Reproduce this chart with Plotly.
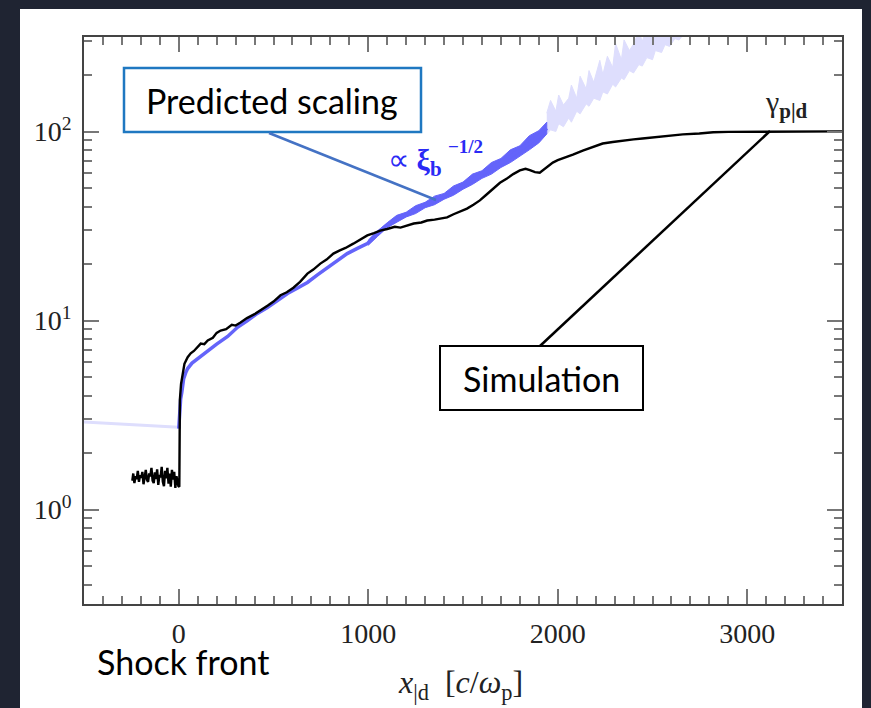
import plotly.graph_objects as go

# ---- data -------------------------------------------------------------
# simulation, upstream (pre-shock) noise
sim_pre_x = [-245, -240, -234, -228, -222, -216, -210, -204, -198, -192, -186, -180,
             -174, -168, -162, -156, -150, -144, -138, -132, -126, -120, -114, -108,
             -102, -96, -90, -84, -78, -72, -66, -60, -54, -48, -42, -36, -30, -24,
             -18, -12, -6, -2]
sim_pre_y = [1.42, 1.55, 1.38, 1.50, 1.45, 1.60, 1.40, 1.52, 1.47, 1.58, 1.36, 1.49,
             1.62, 1.44, 1.40, 1.55, 1.50, 1.66, 1.42, 1.38, 1.57, 1.45, 1.63, 1.35,
             1.52, 1.48, 1.68, 1.40, 1.33, 1.60, 1.46, 1.66, 1.37, 1.55, 1.32, 1.62,
             1.44, 1.58, 1.30, 1.50, 1.35, 1.33]

# simulation, downstream
sim_x = [3, 6, 12, 21, 30, 47, 63, 80, 100, 116, 135, 153, 180, 200, 221, 250, 280, 300,
         326, 360, 400, 432, 470, 500, 537, 570, 605, 640, 679, 710, 747, 780, 816, 850,
         880, 921, 960, 995, 1030, 1063, 1100, 1140, 1170, 1205, 1240, 1280, 1311, 1350,
         1380, 1416, 1450, 1490, 1521, 1555, 1589, 1620, 1658, 1695, 1732, 1765, 1800,
         1830, 1853, 1880, 1905, 1940, 1974, 2000, 2026, 2080, 2132, 2180, 2237, 2290,
         2342, 2400, 2447, 2520, 2589, 2660, 2747, 2820, 2900, 3000, 3100, 3200, 3300,
         3400, 3500]
sim_y = [1.32, 3.8, 4.6, 5.2, 5.9, 6.4, 6.7, 6.9, 7.3, 7.55, 7.5, 7.84, 8.1, 8.6, 8.85,
         9.0, 9.5, 9.4, 9.76, 10.3, 10.8, 11.3, 12.0, 12.6, 13.6, 14.1, 14.9, 16.0, 17.7,
         18.6, 20.0, 21.0, 22.6, 23.5, 24.2, 25.5, 26.8, 28.2, 29.0, 29.9, 30.5, 31.3,
         31.0, 31.8, 32.6, 33.0, 33.8, 34.2, 34.6, 35.1, 36.5, 38.0, 39.1, 41.0, 43.2,
         46.0, 49.9, 53.5, 56.4, 59.5, 62.2, 63.5, 62.5, 61.0, 60.5, 64.5, 68.5, 70.5,
         72.0, 75.5, 79.3, 82.5, 86.4, 88.0, 89.6, 90.8, 91.8, 93.5, 95.3, 96.5, 97.6,
         99.0, 99.5, 99.6, 99.8, 99.7, 99.9, 100.0, 100.2]

# predicted scaling  ~ xi_b^(-1/2)
pred_x = [0, 5, 10, 16, 26, 37, 47, 70, 100, 153, 200, 258, 310, 363, 415, 468, 520,
          574, 625, 679, 730, 784, 835, 889, 940, 995, 1030, 1063, 1110, 1168, 1220,
          1274, 1325, 1379, 1430, 1484, 1535, 1589, 1640, 1695, 1745, 1800, 1850, 1905,
          1942]
pred_y = [2.68, 3.34, 3.85, 4.16, 4.93, 5.3, 5.57, 5.95, 6.29, 6.94, 7.5, 8.23, 9.2,
          10.0, 10.9, 11.7, 12.8, 13.9, 14.8, 15.9, 17.4, 19.1, 20.7, 22.6, 24.0, 25.5,
          27.8, 29.9, 32.5, 35.1, 37.2, 39.6, 41.8, 44.2, 47.2, 50.6, 54.5, 58.5, 63.0,
          67.7, 73.0, 79.3, 86.5, 95.3, 104]

# scatter envelope of the predicted curve (noisy part)
pred_band_x = [1000, 1050, 1100, 1150, 1200, 1250, 1300, 1350, 1400, 1450, 1500, 1550,
               1600, 1650, 1700, 1750, 1800, 1850, 1900, 1942]
pred_band_hi = [26.6, 29.8, 32.9, 36.0, 37.4, 40.5, 42.2, 45.5, 47.0, 51.5, 54.0, 59.5,
                62.0, 68.5, 72.0, 80.0, 84.0, 95.0, 101.0, 112]
pred_band_lo = [25.0, 27.9, 31.0, 33.0, 35.3, 36.8, 39.5, 41.0, 43.8, 46.0, 49.5, 52.5,
                56.5, 59.5, 64.5, 68.5, 74.0, 80.0, 87.0, 97.0]

# predicted scaling outside its validity range (faded)
faint_up_x = [-500, -250, 0]
faint_up_y = [2.90, 2.81, 2.72]
faint_band_x = [1942, 1962, 1990, 2005, 2030, 2058, 2072, 2100, 2118, 2150, 2165, 2190,
                2222, 2238, 2262, 2290, 2305, 2336, 2350, 2378, 2400, 2428, 2446, 2470,
                2500, 2515, 2548, 2566, 2590, 2618, 2640, 2668, 2700, 2760]
faint_band_hi = [125, 146, 128, 156, 138, 150, 176, 150, 196, 168, 210, 182, 238, 200,
                 250, 218, 292, 240, 305, 268, 290, 338, 300, 352, 320, 380, 345, 400,
                 372, 425, 392, 440, 470, 520]
faint_band_lo = [97, 102, 100, 110, 106, 118, 112, 128, 124, 140, 136, 150, 146, 162,
                 158, 178, 172, 192, 188, 210, 204, 226, 222, 246, 240, 268, 262, 288,
                 282, 310, 305, 330, 345, 375]

x_ticks = [0, 1000, 2000, 3000]
x_tick_text = ["0", "1000", "2000", "3000"]
y_ticks = [1, 10, 100]
y_tick_text = ["10<sup>0</sup>", "10<sup>1</sup>", "10<sup>2</sup>"]
y_minor = [0.4, 0.5, 0.6, 0.7, 0.8, 0.9, 2, 3, 4, 5, 6, 7, 8, 9,
           20, 30, 40, 50, 60, 70, 80, 90, 200, 300]

# ---- styling ----------------------------------------------------------
W, H = 871, 708
L, R, T, B = 84, 842, 37, 604
PW, PH = R - L, B - T

def xp(px):
    return (px - L) / PW

def yp(py):
    return (B - py) / PH

BLUE = "#6464fa"
FAINT = "#dedefd"
SERIF = "Liberation Serif"
SANS = "Lato"

fig = go.Figure()

fig.add_trace(go.Scatter(x=faint_up_x, y=faint_up_y, mode="lines",
                         line=dict(color=FAINT, width=3), hoverinfo="skip"))
fig.add_trace(go.Scatter(x=faint_band_x + faint_band_x[::-1],
                         y=faint_band_hi + faint_band_lo[::-1],
                         fill="toself", fillcolor=FAINT, mode="lines",
                         line=dict(color=FAINT, width=1), hoverinfo="skip"))
fig.add_trace(go.Scatter(x=pred_band_x + pred_band_x[::-1],
                         y=pred_band_hi + pred_band_lo[::-1],
                         fill="toself", fillcolor=BLUE, mode="lines",
                         line=dict(color=BLUE, width=1), hoverinfo="skip"))
fig.add_trace(go.Scatter(x=pred_x, y=pred_y, mode="lines",
                         line=dict(color=BLUE, width=3.5), hoverinfo="skip"))
fig.add_trace(go.Scatter(x=sim_pre_x + sim_x, y=sim_pre_y + sim_y, mode="lines",
                         line=dict(color="black", width=2.4), hoverinfo="skip"))

axis_common = dict(
    showline=True, linecolor="#444444", linewidth=1.5, mirror="ticks",
    ticks="inside", tickcolor="#777777", tickwidth=1.5, ticklen=15,
    showgrid=False, zeroline=False,
)

fig.update_xaxes(range=[-500, 3500], tickvals=x_ticks, ticktext=x_tick_text,
                 tickfont=dict(family=SERIF, size=28, color="#222222"),
                 minor=dict(dtick=100, ticks="inside", ticklen=8,
                            tickcolor="#777777", tickwidth=1.5),
                 ticklabelstandoff=4, **axis_common)
fig.update_yaxes(type="log", range=[-0.5, 2.5], tickvals=y_ticks, ticktext=y_tick_text,
                 tickfont=dict(family=SERIF, size=28, color="#222222"),
                 minor=dict(tickvals=y_minor, ticks="inside", ticklen=8,
                            tickcolor="#777777", tickwidth=1.5),
                 ticklabelstandoff=5, **axis_common)

shapes = [
    # white page on dark background
    dict(type="rect", xref="paper", yref="paper", layer="below",
         x0=xp(20), x1=xp(862), y0=yp(9), y1=yp(720),
         fillcolor="white", line=dict(width=0)),
    # callout boxes
    dict(type="rect", xref="paper", yref="paper",
         x0=xp(124), x1=xp(421), y0=yp(132), y1=yp(68),
         fillcolor="white", line=dict(color="#1f78c1", width=2.5)),
    dict(type="line", xref="paper", yref="paper",
         x0=xp(269), y0=yp(133), x1=xp(436), y1=yp(200),
         line=dict(color="#4472c4", width=2.5)),
    dict(type="rect", xref="paper", yref="paper",
         x0=xp(440), x1=xp(643), y0=yp(410), y1=yp(346),
         fillcolor="white", line=dict(color="black", width=2)),
    dict(type="line", xref="paper", yref="paper",
         x0=xp(540), y0=yp(346), x1=xp(770), y1=yp(131),
         line=dict(color="black", width=2.5)),
]

def note(text, px, py, size, color="black", family=SANS, xanchor="center"):
    return dict(text=text, xref="paper", yref="paper", x=xp(px), y=yp(py),
                xanchor=xanchor, yanchor="middle", showarrow=False,
                font=dict(family=family, size=size, color=color))

annotations = [
    note("Predicted scaling", 272, 100, 34),
    note("Simulation", 541, 378, 34),
    note("Shock front", 183, 662, 34),
    note("<i>x</i><sub>|d</sub>  [<i>c</i>/<i>ω</i><sub>p</sub>]", 460, 684, 32,
         color="#222222", family=SERIF),
    note("∝ <b>ξ</b><sub><b>b</b></sub>", 386, 162, 30, color="#2a2af5",
         family=SERIF, xanchor="left"),
    note("<b>−1/2</b>", 446, 146, 19, color="#2a2af5", family=SERIF, xanchor="left"),
    note("γ<sub><b>p|d</b></sub>", 763, 104, 30, color="#222222", family=SERIF,
         xanchor="left"),
]

fig.update_layout(
    width=W, height=H,
    margin=dict(l=L, r=W - R, t=T, b=H - B),
    paper_bgcolor="#1f2432", plot_bgcolor="white",
    showlegend=False, shapes=shapes, annotations=annotations,
)

fig.write_html("out.html")
